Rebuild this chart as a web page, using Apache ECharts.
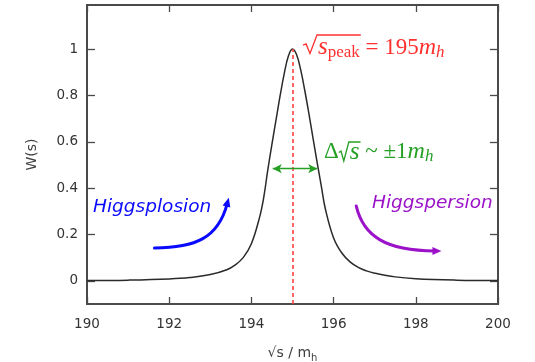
<!DOCTYPE html>
<html><head><meta charset="utf-8">
<script src="https://cdn.jsdelivr.net/npm/echarts@6/dist/echarts.min.js"></script>
<style>html,body{margin:0;padding:0;background:#fff}#c{width:535px;height:362px}</style>
</head><body><div id="c"></div>
<script>
// ---- data ----
const xValues = [190, 191, 192, 192.5, 193, 193.4, 193.6, 193.8, 194.0, 194.2, 194.3, 194.4, 194.5, 194.6, 194.7, 194.8, 194.9, 195.0,
                 195.1, 195.2, 195.3, 195.4, 195.5, 195.6, 195.7, 195.8, 196.0, 196.2, 196.4, 196.6, 196.8, 197.0, 197.5, 198.0, 199.0, 200.0];
const wValues = [0.001, 0.003, 0.008, 0.014, 0.027, 0.048, 0.068, 0.100, 0.160, 0.275, 0.360, 0.480, 0.590, 0.695, 0.800, 0.895, 0.970, 1.000,
                 0.975, 0.910, 0.820, 0.720, 0.615, 0.510, 0.410, 0.310, 0.185, 0.120, 0.082, 0.058, 0.043, 0.033, 0.017, 0.009, 0.003, 0.001];
const xTicks = [190, 192, 194, 196, 198, 200];
const yTicks = [0, 0.2, 0.4, 0.6, 0.8, 1];
const peakX = 195;
const widthArrow = [194.52, 195.6];   // green double arrow ends (x)
const widthArrowY = 0.484;
const bluePath = [[191.64, 0.142], [192.64, 0.142], [193.19, 0.185], [193.41, 0.332]];
const purplePath = [[196.55, 0.323], [196.72, 0.194], [197.26, 0.129], [198.47, 0.129]];

const axisColor = '#4a4a4a';
const tickFont = 'DejaVu Sans';

const option = {
  animation: false,
  grid: { left: 87, right: 37, top: 5, bottom: 58, show: true, borderColor: axisColor, borderWidth: 2,
          backgroundColor: 'transparent', containLabel: false, outerBoundsMode: 'none' },
  xAxis: [{
    type: 'value', min: 190, max: 200, interval: 2, position: 'bottom',
    axisLine: { show: false, onZero: false },
    axisTick: { inside: true, length: 7, lineStyle: { color: axisColor, width: 1.3 } },
    axisLabel: { fontFamily: tickFont, fontSize: 13.5, color: '#333', margin: 13, customValues: xTicks },
    splitLine: { show: false },
    name: '{a|√s / m}{b|h}', nameLocation: 'middle', nameGap: 39,
    nameTextStyle: { rich: {
      a: { fontFamily: tickFont, fontSize: 14, color: '#404040', lineHeight: 20 },
      b: { fontFamily: tickFont, fontSize: 10, color: '#404040', lineHeight: 12, verticalAlign: 'bottom' } } }
  }, {
    type: 'value', min: 190, max: 200, interval: 2, position: 'top',
    axisLine: { show: false, onZero: false },
    axisTick: { inside: true, length: 7, lineStyle: { color: axisColor, width: 1.3 } },
    axisLabel: { show: false }, splitLine: { show: false }
  }],
  yAxis: [{
    type: 'value', min: -0.1, max: 1.19, position: 'left',
    axisLine: { show: false, onZero: false },
    axisTick: { inside: true, length: 8, customValues: yTicks, lineStyle: { color: axisColor, width: 1.3 } },
    axisLabel: { fontFamily: tickFont, fontSize: 13.5, color: '#333', margin: 9, customValues: yTicks },
    splitLine: { show: false },
    name: 'W(s)', nameLocation: 'middle', nameGap: 48,
    nameTextStyle: { fontFamily: tickFont, fontSize: 14, color: '#404040' }
  }, {
    type: 'value', min: -0.1, max: 1.19, position: 'right',
    axisLine: { show: false, onZero: false },
    axisTick: { inside: true, length: 8, customValues: yTicks, lineStyle: { color: axisColor, width: 1.3 } },
    axisLabel: { show: false }, splitLine: { show: false }
  }],
  series: [{
    type: 'line', xAxisIndex: 0, yAxisIndex: 0,
    data: xValues.map((x, i) => [x, wValues[i]]),
    showSymbol: false, smooth: 0.4,
    lineStyle: { color: '#2a2a2a', width: 1.5 },
    z: 3,
    markLine: {
      silent: true, symbol: ['none', 'none'], animation: false,
      label: { show: false },
      lineStyle: { color: '#ff4040', width: 1.6, type: [4, 3] },
      data: [[{ coord: [peakX, -0.1] }, { coord: [peakX, 1] }]]
    }
  }, {
    type: 'line', xAxisIndex: 0, yAxisIndex: 0, data: [],
    markLine: {
      silent: true, symbol: ['arrow', 'arrow'], symbolSize: [7, 9], animation: false,
      label: { show: false },
      lineStyle: { color: '#24a024', width: 1.4, type: 'solid' },
      data: [[{ coord: [widthArrow[0], widthArrowY] }, { coord: [widthArrow[1], widthArrowY] }]]
    }
  }]
};

const chart = echarts.init(document.getElementById('c'));
chart.setOption(option);

const P = (p) => chart.convertToPixel({ xAxisIndex: 0, yAxisIndex: 0 }, p);
const ctx = document.createElement('canvas').getContext('2d');

function curvedArrow(path, color, lw, headLen, headHalf) {
  const [a, b, c, d] = path.map(P);
  const dx = d[0] - c[0], dy = d[1] - c[1];
  const L = Math.hypot(dx, dy); const ux = dx / L, uy = dy / L; const nx = -uy, ny = ux;
  const tip = [d[0] + ux * headLen * 0.7, d[1] + uy * headLen * 0.7];
  const base = [tip[0] - ux * headLen, tip[1] - uy * headLen];
  return [{
    type: 'bezierCurve', silent: true, z: 10,
    shape: { x1: a[0], y1: a[1], cpx1: b[0], cpy1: b[1], cpx2: c[0], cpy2: c[1], x2: d[0], y2: d[1] },
    style: { stroke: color, lineWidth: lw, fill: null, lineCap: 'round' }
  }, {
    type: 'polygon', silent: true, z: 10,
    shape: { points: [tip, [base[0] + nx * headHalf, base[1] + ny * headHalf], [base[0] - nx * headHalf, base[1] - ny * headHalf]] },
    style: { fill: color, stroke: null }
  }];
}

function mathText(x0, yc, tokens, color) {
  const els = []; let x = x0; let rad = null;
  tokens.forEach(tk => {
    if (tk.rad) { rad = { x: x, w: tk.w, top: yc + tk.top, bot: yc + tk.bot, n: tk.over }; x += tk.w + (tk.gap || 0); return; }
    ctx.font = tk.f;
    const w = ctx.measureText(tk.t).width;
    els.push({ type: 'text', silent: true, z: 10, x: x, y: yc + (tk.dy || 0),
      style: { text: tk.t, font: tk.f, fill: color, align: 'left', verticalAlign: 'middle', textAlign: 'left', textVerticalAlign: 'middle' } });
    x += w + (tk.sp || 0);
    if (rad) {
      rad.n--;
      if (rad.n === 0) {
        const r = rad, h = r.bot - r.top;
        els.push({ type: 'polyline', silent: true, z: 10,
          shape: { points: [[r.x, r.top + h * 0.55], [r.x + r.w * 0.22, r.top + h * 0.48], [r.x + r.w * 0.5, r.bot], [r.x + r.w, r.top], [x + 1, r.top]] },
          style: { stroke: color, lineWidth: 1.3, fill: null } });
        rad = null;
      }
    }
  });
  return els;
}

const serif = '"Liberation Serif"';
const redEls = mathText(303, 47.5, [
  { rad: true, w: 14, top: -12.5, bot: 6, over: 2, gap: 1 },
  { t: 's', f: 'italic 25px ' + serif },
  { t: 'peak', f: '17px ' + serif, dy: 5 },
  { t: ' = 195', f: '23px ' + serif },
  { t: 'm', f: 'italic 24px ' + serif },
  { t: 'h', f: 'italic 17px ' + serif, dy: 5 }
], '#ff3030');

const greenEls = mathText(324, 152, [
  { t: 'Δ', f: '23px ' + serif, sp: 0 },
  { rad: true, w: 10, top: -10, bot: 9, over: 1, gap: 1 },
  { t: 's', f: 'italic 25px ' + serif },
  { t: ' ~ ', f: '23px ' + serif },
  { t: '±1', f: '23px ' + serif },
  { t: 'm', f: 'italic 24px ' + serif },
  { t: 'h', f: 'italic 17px ' + serif, dy: 5 }
], '#24a024');

const graphics = [].concat(
  curvedArrow(bluePath, '#0a0aff', 3, 9, 4),
  curvedArrow(purplePath, '#9b12c8', 3, 9, 4),
  redEls, greenEls,
  [{ type: 'text', silent: true, z: 10, x: 93, y: 207,
     style: { text: 'Higgsplosion', font: 'italic 18.5px "DejaVu Sans"', fill: '#0a0aff', align: 'left', verticalAlign: 'middle', textAlign: 'left', textVerticalAlign: 'middle' } },
   { type: 'text', silent: true, z: 10, x: 372, y: 203,
     style: { text: 'Higgspersion', font: 'italic 18.5px "DejaVu Sans"', fill: '#9b12c8', align: 'left', verticalAlign: 'middle', textAlign: 'left', textVerticalAlign: 'middle' } }]
);
chart.setOption({ graphic: { elements: graphics } });
</script>
</body></html>
